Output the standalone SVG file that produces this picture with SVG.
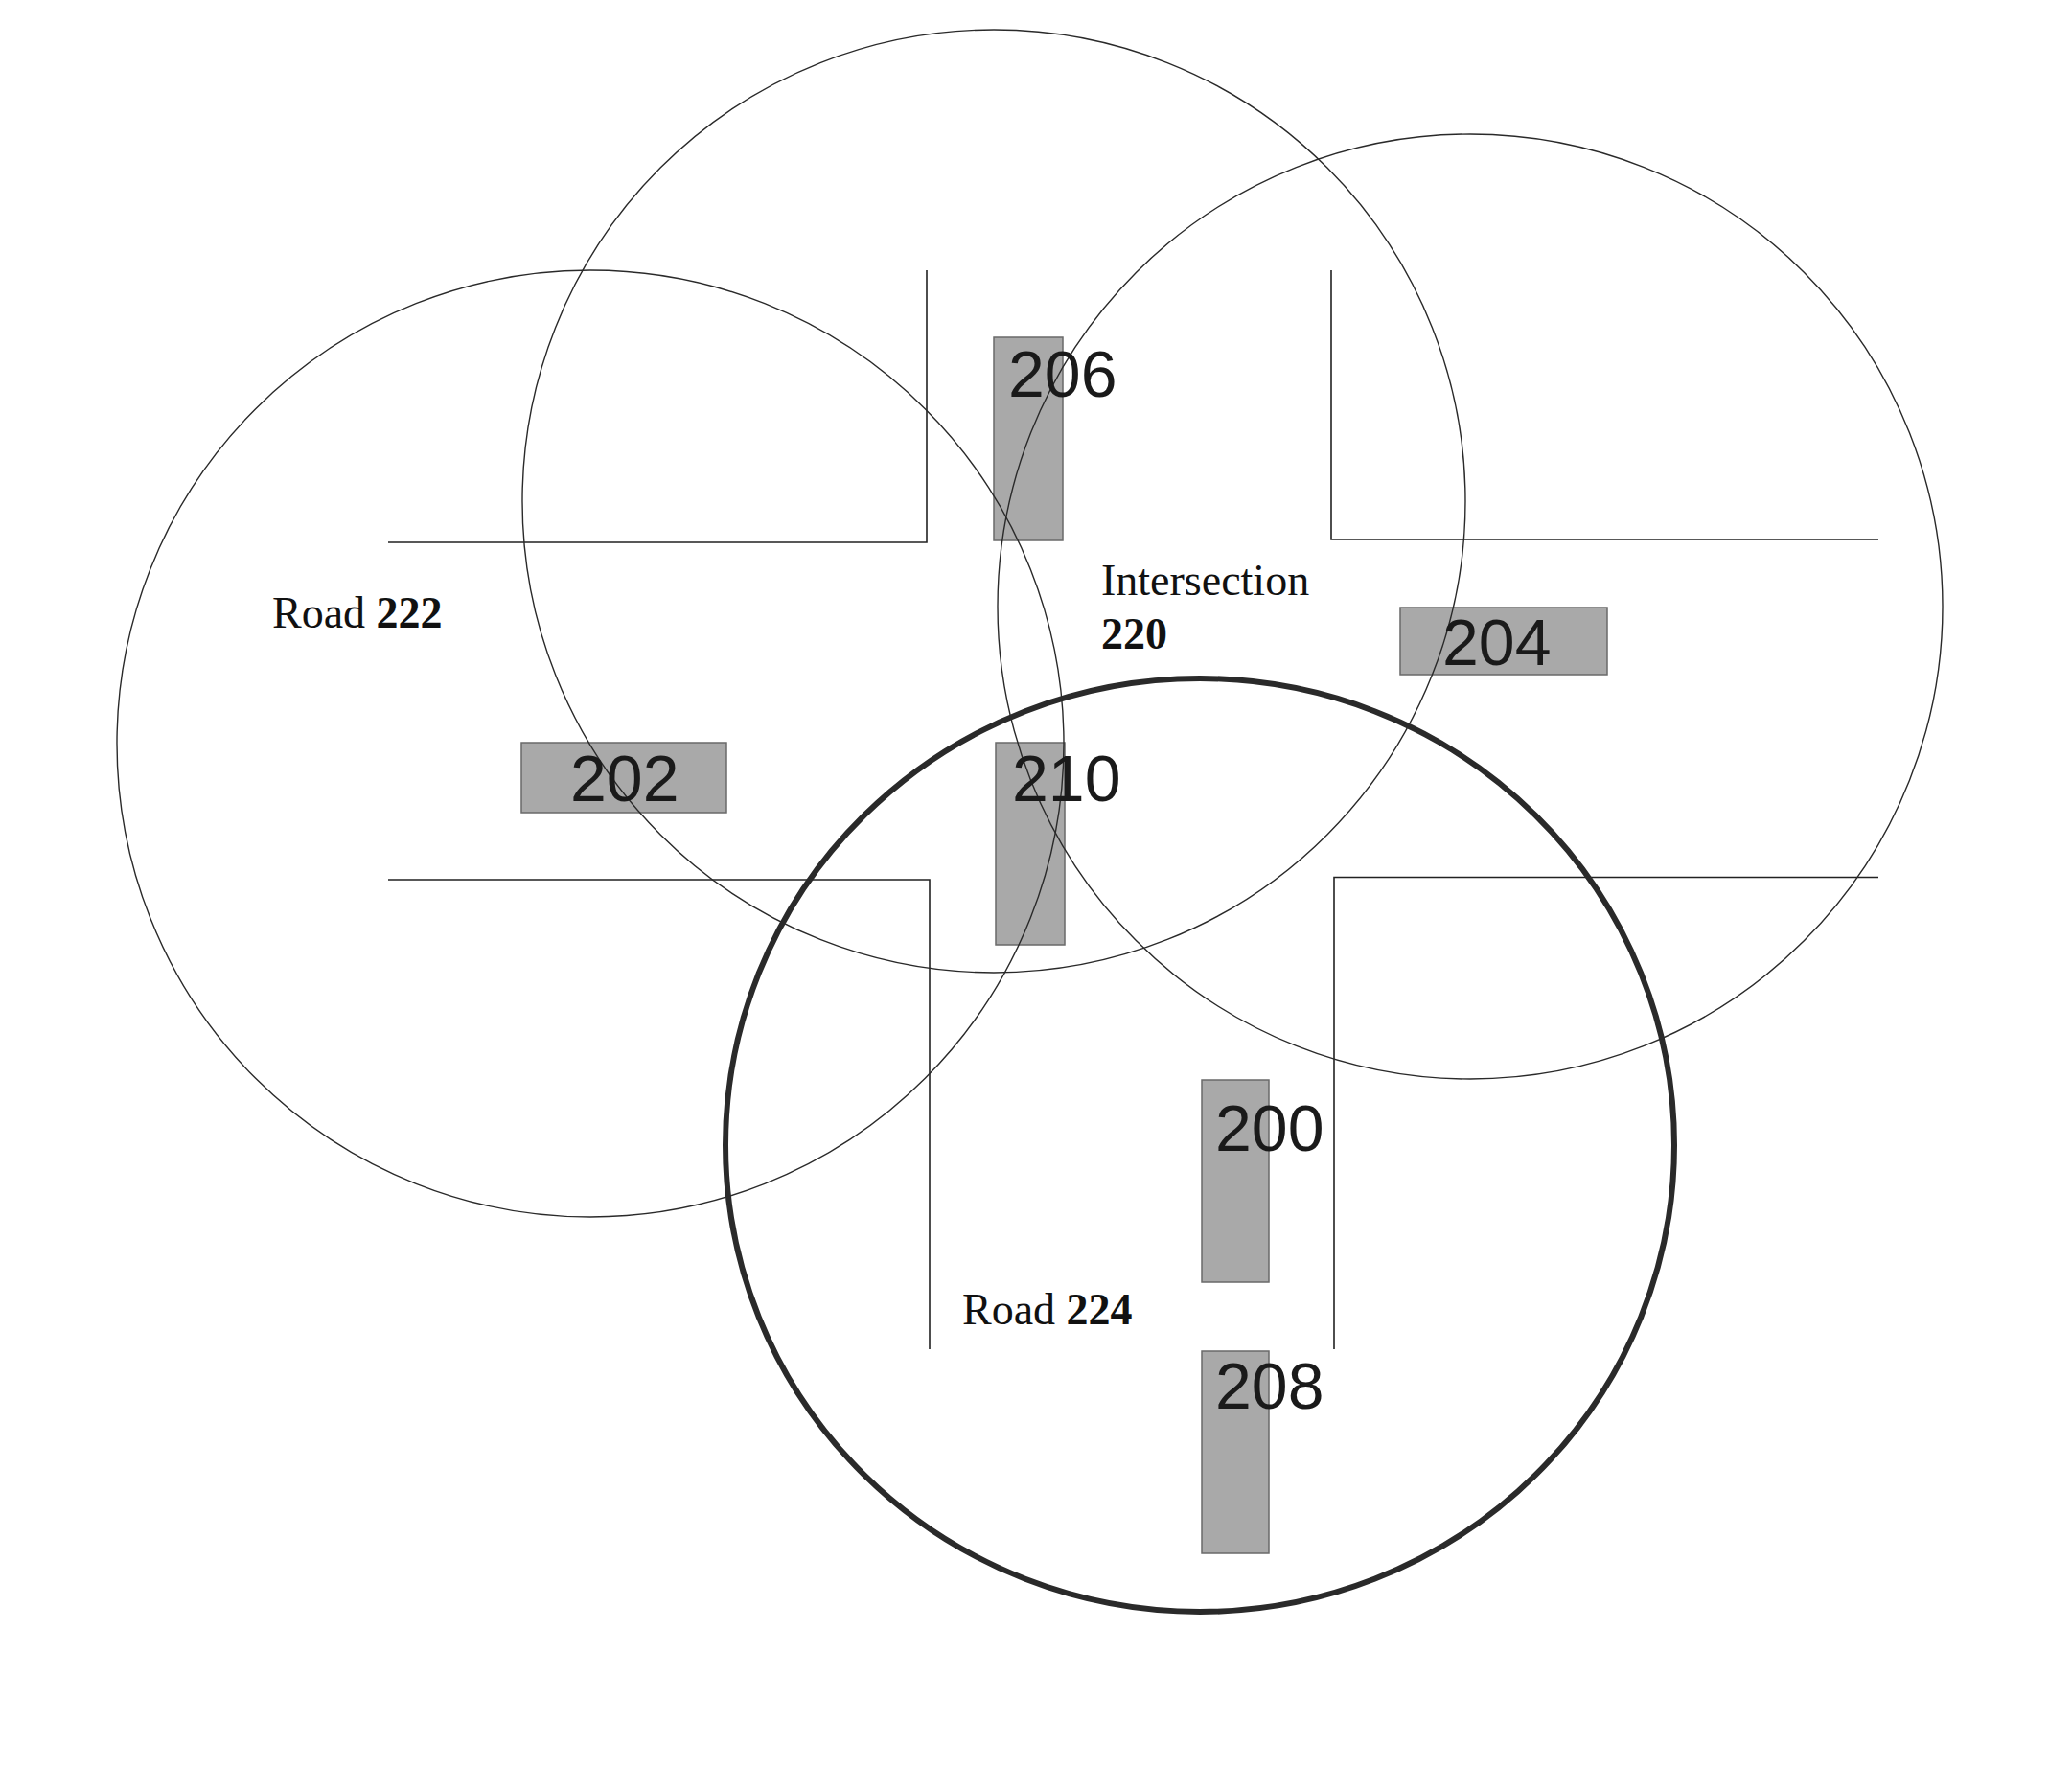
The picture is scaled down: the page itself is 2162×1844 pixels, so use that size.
<svg xmlns="http://www.w3.org/2000/svg" width="2162" height="1844" viewBox="0 0 2162 1844">
<style>
.box{fill:#a9a9a9;stroke:#6a6a6a;stroke-width:1.5}
.num{font-family:"Liberation Sans",Arial,sans-serif;font-size:68px;fill:#1a1a1a}
.lbl{font-family:"Liberation Serif","Times New Roman",serif;font-size:46px;fill:#111}
.b{font-weight:bold}
.road{fill:none;stroke:#222;stroke-width:1.6}
.cov{fill:none;stroke:#2a2a2a;stroke-width:1.4}
.cov-main{fill:none;stroke:#2a2a2a;stroke-width:6}
</style>
<rect width="2162" height="1844" fill="#fff"/>
<g id="roads">
<polyline class="road" points="405,566 967,566 967,282"/>
<polyline class="road" points="405,918 970,918 970,1408"/>
<polyline class="road" points="1389,282 1389,563 1960,563"/>
<polyline class="road" points="1960,915.5 1392,915.5 1392,1408"/>
</g>
<g id="vehicles">
<g id="v206"><rect class="box" x="1037" y="352" width="72" height="212"/></g>
<g id="v210"><rect class="box" x="1039" y="775" width="72" height="211"/></g>
<g id="v202"><rect class="box" x="544" y="775" width="214" height="73"/></g>
<g id="v204"><rect class="box" x="1461" y="634" width="216" height="70"/></g>
<g id="v200"><rect class="box" x="1254" y="1127" width="70" height="211"/></g>
<g id="v208"><rect class="box" x="1254" y="1410" width="70" height="211"/></g>
</g>
<g id="coverage">
<circle id="c202" class="cov" cx="616" cy="776" r="494"/>
<circle id="c206" class="cov" cx="1037" cy="523" r="492"/>
<circle id="c204" class="cov" cx="1534" cy="633" r="493"/>
<ellipse id="c200" class="cov-main" cx="1252" cy="1195" rx="495" ry="487"/>
</g>
<g id="labels">
<text class="num" x="1052" y="414">206</text>
<text class="num" x="1056" y="836">210</text>
<text class="num" x="595" y="836">202</text>
<text class="num" x="1505" y="694">204</text>
<text class="num" x="1268" y="1201">200</text>
<text class="num" x="1268" y="1470">208</text>
<text class="lbl" x="284" y="655">Road <tspan class="b">222</tspan></text>
<text class="lbl" x="1149" y="621">Intersection</text>
<text class="lbl b" x="1149" y="677">220</text>
<text class="lbl" x="1004" y="1382">Road <tspan class="b">224</tspan></text>
</g>
</svg>
